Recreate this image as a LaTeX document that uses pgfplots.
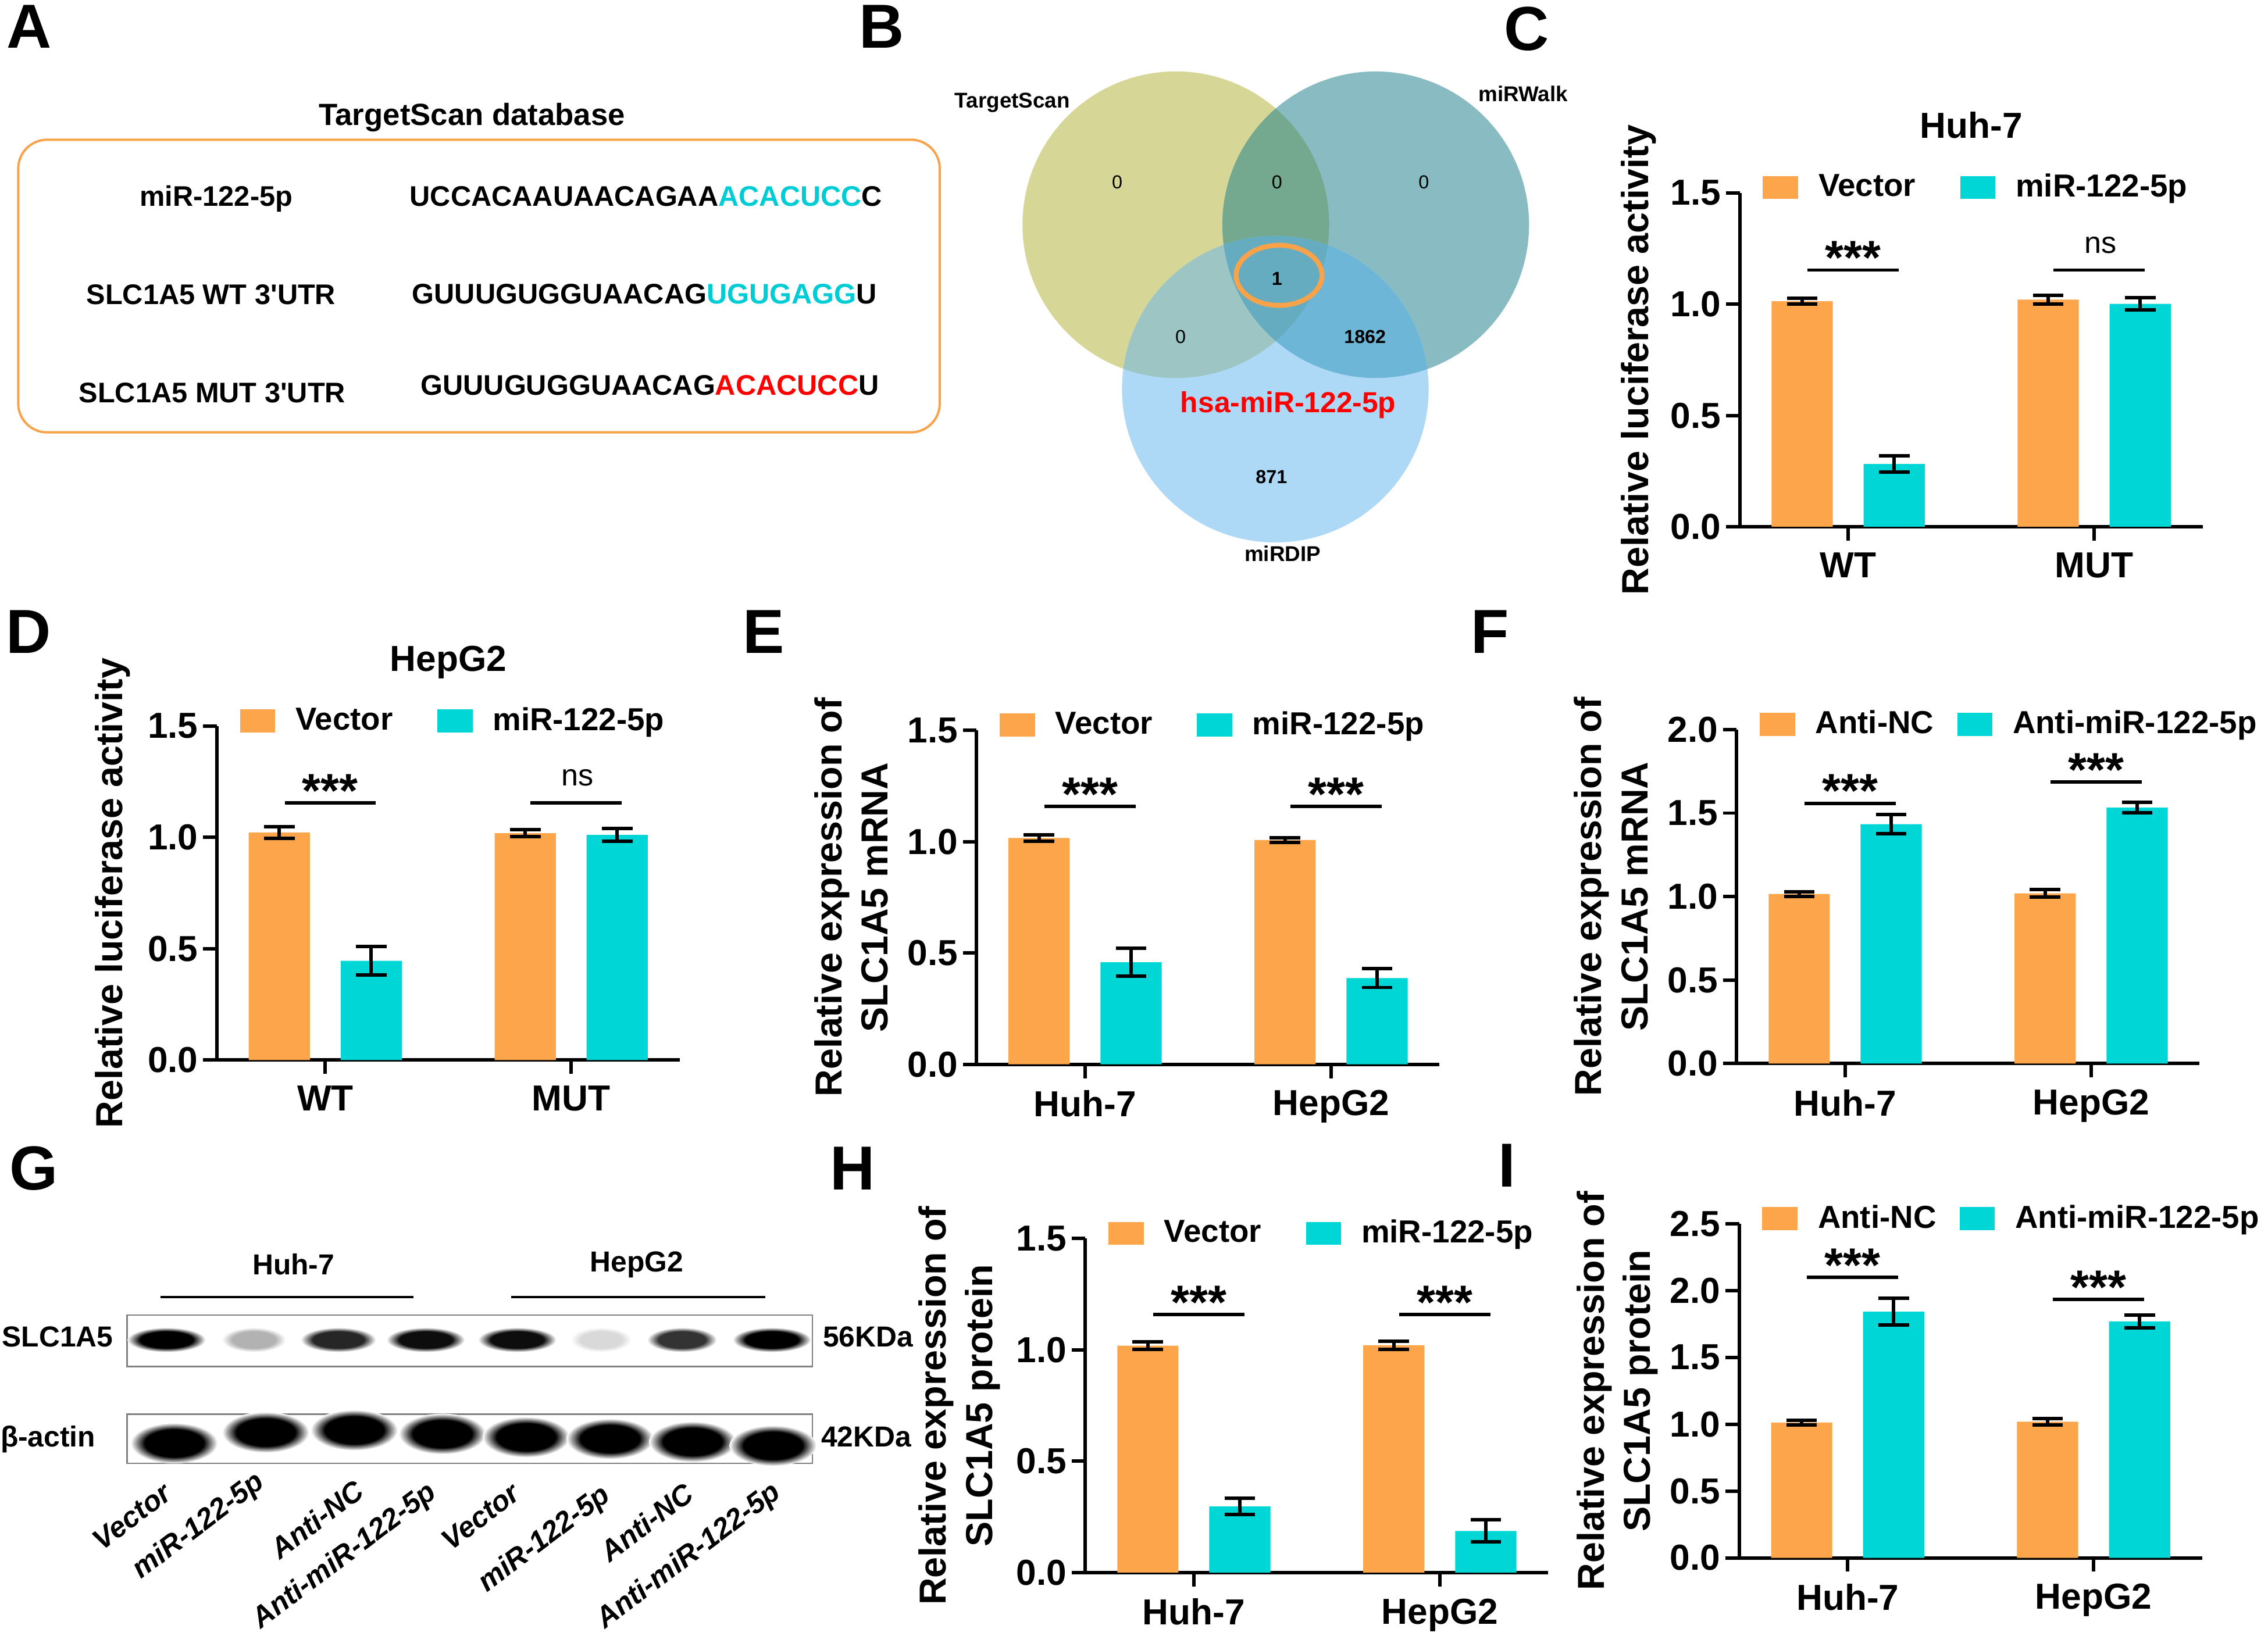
\documentclass[border=0pt]{standalone}
\usepackage{fontspec}
\setmainfont{Liberation Sans}
\usepackage{pgfplots}
\pgfplotsset{compat=1.18}

\definecolor{barorange}{HTML}{FCA54B}
\definecolor{barcyan}{HTML}{00D6D6}
\definecolor{seqcyan}{HTML}{00CCD6}
\definecolor{boxorange}{HTML}{F8A24A}
\definecolor{vts}{RGB}{214,215,150}
\definecolor{vmw}{RGB}{137,188,194}
\definecolor{vdip}{RGB}{173,216,246}
\definecolor{vtsmw}{RGB}{117,169,143}
\definecolor{vtsdip}{RGB}{156,197,195}
\definecolor{vmwdip}{RGB}{110,182,215}
\definecolor{vall}{RGB}{102,172,193}

\pgfdeclareradialshading{band}{\pgfpoint{0bp}{0bp}}{color(0bp)=(black); color(17bp)=(black); color(25bp)=(white); color(50bp)=(white)}

\pgfplotsset{
  bp/.style={
    scale only axis, width=160pt, height=115.5pt,
    axis x line=bottom, axis y line=left,
    axis line style={-, line width=1.2pt, black},
    major tick style={line width=1.2pt, black},
    major tick length=4.8pt, tick align=outside,
    xmin=-0.441, xmax=1.441, xtick={0,1}, ymin=0,
    ybar, bar width=21.15pt, clip=false,
    /pgf/number format/fixed, /pgf/number format/fixed zerofill,
    /pgf/number format/precision=1, /pgf/number format/assume math mode=true,
    tick label style={font=\fontsize{12.5}{14}\selectfont\bfseries},
    yticklabel style={inner xsep=1.5pt},
    xticklabel style={inner ysep=4pt},
    label style={font=\fontsize{13}{16}\selectfont\bfseries, align=center},
    title style={at={(axis description cs:0.5,1)}, anchor=base, yshift=13pt,
      font=\fontsize{12.5}{14}\selectfont\bfseries},
    legend columns=2,
    legend image code/.code={\fill[##1] (0pt,-3.95pt) rectangle (12.2pt,3.95pt);},
    legend style={draw=none, fill=none, inner sep=0pt, outer sep=0pt,
      font=\fontsize{11}{13}\selectfont\bfseries, nodes={inner sep=0pt},
      /tikz/every odd column/.append style={column sep=7pt},
      at={(axis description cs:0,1)}, anchor=west, xshift=8pt, yshift=1.8pt},
  },
  eb/.style={error bars/y dir=both, error bars/y explicit,
    error bars/error bar style={line width=1.2pt, draw=black},
    error bars/error mark options={rotate=90, draw=black, line width=1.2pt, mark size=5.3pt}},
}
\tikzset{
  sig/.style={line width=1.2pt, black},
  stars/.style={anchor=base, yshift=-1.5pt, font=\fontsize{16.5}{18}\selectfont\bfseries},
  ns/.style={anchor=base, yshift=5.8pt, font=\fontsize{10.5}{12}\selectfont\mdseries},
}

\begin{document}
\bfseries
\begin{tikzpicture}
\useasboundingbox (0pt,0pt) rectangle (784pt,-565.5pt);

\begin{scope}[x=0.5pt, y=-0.5pt]
% panel letters
\foreach \l/\px/\py in {A/20/18.5, B/609.6/18.5, C/1055.5/19.8, D/19.9/436.8,
    E/528/437, F/1030/437, G/23.5/808, H/589.5/808, I/1042/806}
  \node[font=\fontsize{21.5}{24}\selectfont\bfseries, inner sep=0pt] at (\px,\py) {\l};

% A: sequences
\node[anchor=base, font=\fontsize{10.6}{12}\selectfont\bfseries] at (326.3,86.5) {TargetScan database};
\draw[boxorange, line width=0.8pt, rounded corners=10pt] (12.6,96.6) rectangle (649.7,299.0);
\begin{scope}[font=\fontsize{9.8}{12}\selectfont\bfseries]
\node[anchor=base] at (149.5,142.5) {miR-122-5p};
\node[anchor=base west, inner sep=0pt] at (282.9,142.5) {UCCACAAUAACAGAA\textcolor{seqcyan}{ACACUCC}C};
\node[anchor=base] at (145.9,210.4) {SLC1A5 WT 3\textquotesingle UTR};
\node[anchor=base west, inner sep=0pt] at (284.6,210.0) {GUUUGUGGUAACAG\textcolor{seqcyan}{UGUGAGG}U};
\node[anchor=base] at (146.7,278.3) {SLC1A5 MUT 3\textquotesingle UTR};
\node[anchor=base west, inner sep=0pt] at (290.5,273.2) {GUUUGUGGUAACAG\textcolor{red}{ACACUCC}U};
\end{scope}

% B: Venn diagram
\fill[vts] (812.9,155.4) circle [radius=106];
\fill[vmw] (951.1,155.4) circle [radius=106];
\fill[vdip] (881.7,269.1) circle [radius=106];
\begin{scope}\clip (812.9,155.4) circle [radius=106]; \fill[vtsmw] (951.1,155.4) circle [radius=106]; \end{scope}
\begin{scope}\clip (812.9,155.4) circle [radius=106]; \fill[vtsdip] (881.7,269.1) circle [radius=106]; \end{scope}
\begin{scope}\clip (951.1,155.4) circle [radius=106]; \fill[vmwdip] (881.7,269.1) circle [radius=106]; \end{scope}
\begin{scope}\clip (812.9,155.4) circle [radius=106]; \clip (951.1,155.4) circle [radius=106];
  \fill[vall] (881.7,269.1) circle [radius=106]; \end{scope}
\begin{scope}[font=\fontsize{7.4}{9}\selectfont\bfseries]
\node[anchor=base] at (699.9,74.5) {TargetScan};
\node[anchor=base] at (1053.1,70.2) {miRWalk};
\node[anchor=base] at (886.8,388.3) {miRDIP};
\end{scope}
\begin{scope}[font=\fontsize{6.5}{8}\selectfont\mdseries]
\node[anchor=base] at (772.4,130.6) {0};
\node[anchor=base] at (882.8,130.6) {0};
\node[anchor=base] at (984.4,130.6) {0};
\node[anchor=base] at (816.2,237.3) {0};
\end{scope}
\begin{scope}[font=\fontsize{6.5}{8}\selectfont\bfseries]
\node[anchor=base] at (882.8,197) {1};
\node[anchor=base] at (943.7,237.3) {1862};
\node[anchor=base] at (879.0,334.2) {871};
\end{scope}
\draw[boxorange, line width=1.7pt] (884.3,190.4) ellipse [x radius=29.7, y radius=20.8];
\node[anchor=base, red, font=\fontsize{10}{12}\selectfont\bfseries] at (890.6,285.2) {hsa-miR-122-5p};

% G: western blot
\begin{scope}[font=\fontsize{10}{12}\selectfont\bfseries]
\node[anchor=base] at (202.9,881.5) {Huh-7};
\node[anchor=base] at (440.1,879.4) {HepG2};
\node[anchor=base] at (39.8,931.2) {SLC1A5};
\node[anchor=base] at (33.2,1000.3) {β-actin};
\node[anchor=base] at (600.1,931.2) {56KDa};
\node[anchor=base] at (598.9,1000.3) {42KDa};
\end{scope}
\draw[line width=0.8pt] (111,896.8) -- (285.8,896.8);
\draw[line width=0.8pt] (353.5,896.8) -- (529.1,896.8);
\draw[gray, line width=0.5pt] (87.8,909.4) rectangle (561.7,945.0);
\draw[gray, line width=0.5pt] (87.8,977.9) rectangle (561.7,1011.9);
\foreach \bx/\bw/\bo in {115.1/27/1, 175.5/22/0.3, 233.9/26/0.85, 294.3/27/0.95,
    357.6/27/0.95, 415.6/21/0.15, 471.5/24/0.8, 533.6/27/1}
  \shade[shading=band, fill opacity=\bo] (\bx,926.5) ellipse [x radius=\bw, y radius=8.5];
\foreach \bx/\by in {120.4/998, 183.7/990.5, 244.9/989, 305.8/991.6,
    363.7/993.8, 421.7/995, 478.8/997, 534.4/999.7}
  \shade[shading=band] (\bx,\by) ellipse [x radius=30, y radius=14];
\begin{scope}[font=\fontsize{10}{12}\selectfont\bfseries\itshape]
\foreach \lx/\ly/\lt in {116/1030/Vector, 181/1023/miR-122-5p, 249/1028/Anti-NC,
    300/1030/Anti-miR-122-5p, 357/1030/Vector, 420/1032/miR-122-5p,
    477/1030/Anti-NC, 538/1030/Anti-miR-122-5p}
  \node[anchor=east, rotate=37, inner sep=0pt] at (\lx,\ly) {\lt};
\end{scope}
\end{scope}

% C
\begin{axis}[bp, at={(601.4pt,-182.15pt)}, anchor=south west,
  ymax=1.5, ytick={0,0.5,1,1.5}, xticklabels={WT,MUT},
  title={Huh-7},
  ylabel={Relative luciferase activity},
  ylabel style={at={([xshift=-35pt]axis description cs:0,0.5)}, anchor=center}]
\addplot[fill=barorange, draw=none, bar shift=-15.9pt, eb]
  coordinates {(0,1.013) +- (0,0.013) (1,1.020) +- (0,0.020)};
\addlegendentry{\makebox[49pt][l]{Vector}}
\addplot[fill=barcyan, draw=none, bar shift=15.9pt, eb]
  coordinates {(0,0.282) +- (0,0.036) (1,1.001) +- (0,0.028)};
\addlegendentry{miR-122-5p}
\draw[sig] (axis cs:-0.165,1.153) -- (axis cs:0.205,1.153);
\draw[sig] (axis cs:0.835,1.153) -- (axis cs:1.205,1.153);
\node[stars] at (axis cs:0.02,1.153) {***};
\node[ns] at (axis cs:1.026,1.153) {ns};
\end{axis}

% D
\begin{axis}[bp, at={(74.95pt,-366.55pt)}, anchor=south west,
  ymax=1.5, ytick={0,0.5,1,1.5}, xticklabels={WT,MUT},
  title={HepG2},
  ylabel={Relative luciferase activity},
  ylabel style={at={([xshift=-36pt]axis description cs:0,0.5)}, anchor=center}]
\addplot[fill=barorange, draw=none, bar shift=-15.9pt, eb]
  coordinates {(0,1.022) +- (0,0.026) (1,1.019) +- (0,0.016)};
\addlegendentry{\makebox[49pt][l]{Vector}}
\addplot[fill=barcyan, draw=none, bar shift=15.9pt, eb]
  coordinates {(0,0.446) +- (0,0.064) (1,1.011) +- (0,0.029)};
\addlegendentry{miR-122-5p}
\draw[sig] (axis cs:-0.165,1.156) -- (axis cs:0.205,1.156);
\draw[sig] (axis cs:0.835,1.156) -- (axis cs:1.205,1.156);
\node[stars] at (axis cs:0.02,1.156) {***};
\node[ns] at (axis cs:1.026,1.156) {ns};
\end{axis}

% E
\begin{axis}[bp, at={(337.6pt,-368pt)}, anchor=south west,
  ymax=1.5, ytick={0,0.5,1,1.5}, xticklabels={Huh-7,HepG2},
  ylabel={Relative expression of\\SLC1A5 mRNA},
  ylabel style={at={([xshift=-43.3pt]axis description cs:0,0.5)}, anchor=center}]
\addplot[fill=barorange, draw=none, bar shift=-15.9pt, eb]
  coordinates {(0,1.016) +- (0,0.015) (1,1.007) +- (0,0.010)};
\addlegendentry{\makebox[49pt][l]{Vector}}
\addplot[fill=barcyan, draw=none, bar shift=15.9pt, eb]
  coordinates {(0,0.458) +- (0,0.063) (1,0.387) +- (0,0.042)};
\addlegendentry{miR-122-5p}
\draw[sig] (axis cs:-0.165,1.157) -- (axis cs:0.205,1.157);
\draw[sig] (axis cs:0.835,1.157) -- (axis cs:1.205,1.157);
\node[stars] at (axis cs:0.02,1.157) {***};
\node[stars] at (axis cs:1.02,1.157) {***};
\end{axis}

% F
\begin{axis}[bp, at={(600.35pt,-367.75pt)}, anchor=south west,
  ymax=2, ytick={0,0.5,1,1.5,2}, xticklabels={Huh-7,HepG2},
  ylabel={Relative expression of\\SLC1A5 mRNA},
  ylabel style={at={([xshift=-43.4pt]axis description cs:0,0.5)}, anchor=center}]
\addplot[fill=barorange, draw=none, bar shift=-15.9pt, eb]
  coordinates {(0,1.016) +- (0,0.014) (1,1.019) +- (0,0.022)};
\addlegendentry{\makebox[49pt][l]{Anti-NC}}
\addplot[fill=barcyan, draw=none, bar shift=15.9pt, eb]
  coordinates {(0,1.433) +- (0,0.057) (1,1.533) +- (0,0.030)};
\addlegendentry{Anti-miR-122-5p}
\draw[sig] (axis cs:-0.165,1.559) -- (axis cs:0.205,1.559);
\draw[sig] (axis cs:0.835,1.685) -- (axis cs:1.205,1.685);
\node[stars] at (axis cs:0.02,1.559) {***};
\node[stars] at (axis cs:1.02,1.685) {***};
\end{axis}

% H
\begin{axis}[bp, at={(375.2pt,-543.75pt)}, anchor=south west,
  ymax=1.5, ytick={0,0.5,1,1.5}, xticklabels={Huh-7,HepG2},
  ylabel={Relative expression of\\SLC1A5 protein},
  ylabel style={at={([xshift=-43.5pt]axis description cs:0,0.5)}, anchor=center}]
\addplot[fill=barorange, draw=none, bar shift=-15.9pt, eb]
  coordinates {(0,1.019) +- (0,0.017) (1,1.021) +- (0,0.019)};
\addlegendentry{\makebox[49pt][l]{Vector}}
\addplot[fill=barcyan, draw=none, bar shift=15.9pt, eb]
  coordinates {(0,0.297) +- (0,0.036) (1,0.187) +- (0,0.050)};
\addlegendentry{miR-122-5p}
\draw[sig] (axis cs:-0.165,1.160) -- (axis cs:0.205,1.160);
\draw[sig] (axis cs:0.835,1.160) -- (axis cs:1.205,1.160);
\node[stars] at (axis cs:0.02,1.160) {***};
\node[stars] at (axis cs:1.02,1.160) {***};
\end{axis}

% I
\begin{axis}[bp, at={(601.2pt,-538.65pt)}, anchor=south west,
  ymax=2.5, ytick={0,0.5,1,1.5,2,2.5}, xticklabels={Huh-7,HepG2},
  ylabel={Relative expression of\\SLC1A5 protein},
  ylabel style={at={([xshift=-42.1pt]axis description cs:0,0.5)}, anchor=center}]
\addplot[fill=barorange, draw=none, bar shift=-15.9pt, eb]
  coordinates {(0,1.013) +- (0,0.018) (1,1.019) +- (0,0.023)};
\addlegendentry{\makebox[49pt][l]{Anti-NC}}
\addplot[fill=barcyan, draw=none, bar shift=15.9pt, eb]
  coordinates {(0,1.842) +- (0,0.100) (1,1.770) +- (0,0.048)};
\addlegendentry{Anti-miR-122-5p}
\draw[sig] (axis cs:-0.165,2.099) -- (axis cs:0.205,2.099);
\draw[sig] (axis cs:0.835,1.934) -- (axis cs:1.205,1.934);
\node[stars] at (axis cs:0.02,2.099) {***};
\node[stars] at (axis cs:1.02,1.934) {***};
\end{axis}
\end{tikzpicture}
\end{document}
